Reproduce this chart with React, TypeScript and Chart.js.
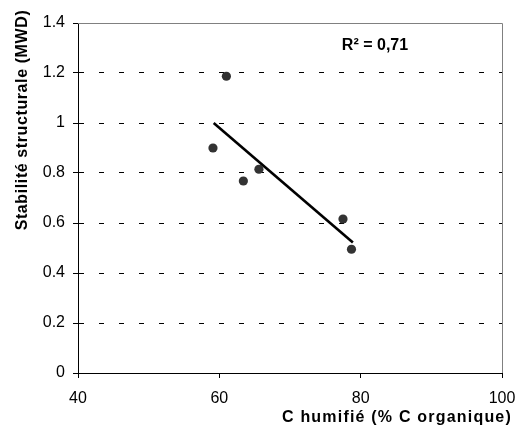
import React, { useEffect, useRef } from "react";
import { Chart, registerables } from "chart.js";

Chart.register(...registerables);

// Data
const humifiedC = [59.1, 61.0, 63.4, 65.6, 77.5, 78.7];
const stability = [0.9, 1.187, 0.768, 0.815, 0.616, 0.495];
const trendX = [59.2, 78.9];
const trendY = [1.0, 0.522];
const xTicks = [40, 60, 80, 100];
const yTicks = [0, 0.2, 0.4, 0.6, 0.8, 1, 1.2, 1.4];
const xTitle = "C humifié (% C organique)";
const yTitle = "Stabilité structurale (MWD)";
const r2Label = "R² = 0,71";

const FONT = "'Liberation Sans', Arial, sans-serif";

const overlayPlugin = {
  id: "overlay",
  afterDatasetsDraw(chart: any) {
    const { ctx, chartArea } = chart;
    ctx.save();
    ctx.strokeStyle = "#808080";
    ctx.lineWidth = 1;
    ctx.setLineDash([]);
    ctx.beginPath();
    ctx.moveTo(chartArea.left, chartArea.top + 0.5);
    ctx.lineTo(chartArea.right + 0.5, chartArea.top + 0.5);
    ctx.lineTo(chartArea.right + 0.5, chartArea.bottom);
    ctx.stroke();
    ctx.restore();
  },
  afterDraw(chart: any) {
    const { ctx } = chart;
    ctx.save();
    ctx.fillStyle = "#000";
    ctx.textAlign = "center";
    ctx.textBaseline = "middle";
    ctx.font = `bold 16px ${FONT}`;
    ctx.fillText(r2Label, 375, 46);
    (ctx as any).letterSpacing = "1.2px";
    ctx.fillText(xTitle, 397, 418);
    (ctx as any).letterSpacing = "0.6px";
    ctx.translate(23, 120);
    ctx.rotate(-Math.PI / 2);
    ctx.fillText(yTitle, 0, 0);
    ctx.restore();
  },
};

export default function App() {
  const ref = useRef<HTMLCanvasElement | null>(null);
  useEffect(() => {
    if (!ref.current) return;
    const chart = new Chart(ref.current, {
      type: "scatter",
      data: {
        datasets: [
          {
            label: "trend",
            data: trendX.map((x, i) => ({ x, y: trendY[i] })),
            showLine: true,
            borderColor: "#000",
            borderWidth: 2.6,
            pointRadius: 0,
            pointHoverRadius: 0,
          },
          {
            label: "points",
            data: humifiedC.map((x, i) => ({ x, y: stability[i] })),
            backgroundColor: "#333333",
            borderColor: "#333333",
            borderWidth: 0,
            pointRadius: 4.6,
          },
        ],
      },
      options: {
        responsive: false,
        animation: false,
        layout: { padding: { top: 23, right: 17, bottom: 0, left: 0 } },
        plugins: {
          legend: { display: false },
          tooltip: { enabled: false },
          title: { display: false },
        },
        scales: {
          x: {
            type: "linear",
            min: xTicks[0],
            max: xTicks[xTicks.length - 1],
            afterBuildTicks: (scale: any) => {
              scale.ticks = xTicks.map((v) => ({ value: v }));
            },
            afterFit: (scale: any) => {
              scale.height = 61;
              scale.paddingLeft = 0;
              scale.paddingRight = 0;
              scale.paddingTop = 0;
              scale.paddingBottom = 0;
            },
            ticks: {
              color: "#000",
              font: { family: FONT, size: 16 },
              padding: 11,
              maxRotation: 0,
              callback: (v: any) => String(v),
            },
            grid: {
              display: true,
              drawOnChartArea: false,
              tickLength: 5,
              color: "#000",
              tickColor: "#000",
            },
            border: { display: true, color: "#000", width: 1 },
          },
          y: {
            type: "linear",
            min: yTicks[0],
            max: yTicks[yTicks.length - 1],
            afterBuildTicks: (scale: any) => {
              scale.ticks = yTicks.map((v) => ({ value: v }));
            },
            afterFit: (scale: any) => {
              scale.width = 78;
              scale.paddingLeft = 0;
              scale.paddingRight = 0;
              scale.paddingTop = 0;
              scale.paddingBottom = 0;
            },
            ticks: {
              color: "#000",
              font: { family: FONT, size: 16 },
              padding: 8,
              callback: (v: any) => String(Math.round(Number(v) * 10) / 10),
            },
            grid: {
              display: true,
              drawOnChartArea: true,
              tickLength: 5,
              color: (c: any) =>
                c.tick && c.tick.value > 0 && c.tick.value < 1.4 ? "#000" : "rgba(0,0,0,0)",
              tickColor: "#000",
              lineWidth: 1,
              tickBorderDash: [],
            } as any,
            border: { display: true, color: "#000", width: 1, dash: [5, 15] } as any,
          },
        },
      },
      plugins: [overlayPlugin],
    });
    return () => chart.destroy();
  }, []);
  return (
    <div style={{ position: "absolute", left: 0, top: 0, width: 519, height: 434, background: "#fff" }}>
      <canvas ref={ref} width={519} height={434} style={{ display: "block" }} />
    </div>
  );
}
